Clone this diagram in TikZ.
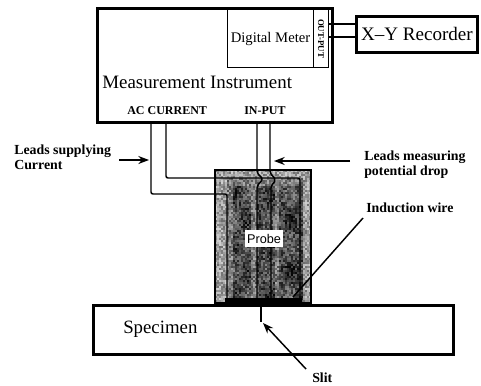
\documentclass[tikz,border=0pt]{standalone}
\usepackage{fontspec}
\setmainfont{Liberation Serif}
\newfontfamily\probefont{Liberation Sans}
\usetikzlibrary{arrows.meta}
\begin{document}
\begin{tikzpicture}[x=0.75pt,y=-0.75pt,
  box/.style={draw=black,line width=2.1pt,fill=white,inner sep=0pt,anchor=north west},
  thin box/.style={draw=black,line width=0.8pt,inner sep=0pt,anchor=north west},
  lead/.style={draw=black,line width=1.1pt,rounded corners=1.5pt},
  wire/.style={draw=black,line width=1pt},
  pointer/.style={draw=black,line width=1.1pt,-{Stealth[length=8pt,width=6pt]}},
  lab/.style={inner sep=0pt,font=\fontsize{10.4}{11.3}\selectfont\bfseries,align=left,anchor=west,text=black},
  cap lab/.style={inner sep=0pt,font=\fontsize{9}{10}\selectfont\bfseries,anchor=west},
  big/.style={inner sep=0pt,anchor=west}]
\useasboundingbox (0,0) rectangle (481,385);
% instrument
\node[box,minimum width=176.25pt,minimum height=85.5pt] (inst) at (96,7) {};
\node[thin box,minimum width=64.5pt,minimum height=43.5pt] (meter) at (227,9)
  {\fontsize{11}{12}\selectfont Digital Meter};
\node[thin box,minimum width=11.25pt,minimum height=43.5pt] (outp) at (313,9)
  {\rotatebox{-90}{\fontsize{6.6}{7}\selectfont\bfseries OUT-PUT}};
\node[big,font=\fontsize{14.2}{16}\selectfont] (mi) at (102,82) {Measurement Instrument};
\node[cap lab] (ac) at (127,111) {AC CURRENT};
\node[cap lab] (ip) at (244,111) {IN-PUT};
% recorder
\node[box,minimum width=90.75pt,minimum height=27pt,font=\fontsize{14.3}{16}\selectfont] (xy) at (355,15) {X--Y Recorder};
\coordinate (o1) at (328,24); \coordinate (o2) at (328,37);
\draw[wire] (o1) -- (o1-|xy.west);
\draw[wire] (o2) -- (o2-|xy.west);
% specimen
\node[box,minimum width=270pt,minimum height=36.75pt] (spec) at (92,304) {};
\node[big,font=\fontsize{14.1}{16}\selectfont] (sp) at (123,329) {Specimen};
% probe: speckled body
\pgfmathsetseed{4711}
\foreach \x in {215,217,...,309}{
  \foreach \y in {170,172,...,301}{
    \pgfmathtruncatemacro\shade{min(98,((\x<226||\x>=302||\y<178)?38:((\y<186||\x<233||(\x>=250&&\x<256)||(\x>=274&&\x<279))?52:72+12*sin(\x*9)*sin(\y*7)))+20*rand)}
    \fill[black!\shade] (\x,\y) rectangle ++(2.2,2.2);
  }
}
\draw[line width=0.9pt] (215,170) rectangle (311,303);
\fill[black] (225,298) rectangle (302,304);
% leads
\coordinate (a1) at (151,122); \coordinate (a2) at (166,122);
\coordinate (i1) at (257,122); \coordinate (i2) at (270,122);
\draw[lead] (a1) |- (227,194) -- (227,299);
\draw[lead] (a2) |- (300,178) -- (300,299);
\draw[lead] (i1) -- (257,173) -- (263,179) -- (257,186) -- (257,299);
\draw[lead] (i2) -- (270,173) -- (276,180) -- (271,186) -- (271,299);
\node[fill=white,inner sep=0pt,minimum width=28.5pt,minimum height=12.75pt,font=\probefont\fontsize{9.5}{11}\selectfont] (pb) at (264,238.5) {Probe};
% slit
\coordinate (slit) at (261,322);
\draw[line width=1.2pt] (slit|-spec.north) -- (slit);
% labels
\node[lab] (ls) at (14,157.5) {Leads supplying\\Current};
\coordinate (ls1) at (119,160); \coordinate (ls2) at (149,160);
\draw[pointer] (ls1) -- (ls2);
\node[lab] (lm) at (364,164.5) {Leads measuring\\potential drop};
\coordinate (lm1) at (350,161); \coordinate (lm2) at (274,161);
\draw[pointer] (lm1) -- (lm2);
\node[lab] (iw) at (366,208) {Induction wire};
\coordinate (iw1) at (363,218); \coordinate (iw2) at (293,297);
\draw[line width=1.1pt] (iw1) -- (iw2);
\node[lab] (sl) at (312,378) {Slit};
\coordinate (s1) at (306,369); \coordinate (s2) at (263,323);
\draw[pointer] (s1) -- (s2);
\end{tikzpicture}
\end{document}
